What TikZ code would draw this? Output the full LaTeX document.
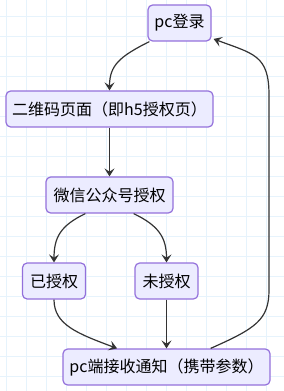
\documentclass[tikz,border=0pt]{standalone}
\usepackage{fontspec}
\setmainfont{Noto Sans CJK SC}
\usetikzlibrary{arrows.meta}
\definecolor{lilac}{HTML}{ECECFF}
\definecolor{amethyst}{HTML}{9370DB}
\definecolor{ink}{HTML}{333333}
\definecolor{gridblue}{HTML}{E6F3FC}
\tikzset{
  box/.style={draw=amethyst,rounded corners=3.5pt,line width=0.9pt,fill=lilac,
    minimum height=27pt,inner sep=2pt,align=center,font=\fontsize{12}{14}\selectfont},
  arr/.style={-{Stealth[length=6pt,width=7.5pt,inset=2.5pt]},line width=0.9pt,ink},
  gridline/.style={gridblue,line width=0.75pt}
}

\begin{document}
\begin{tikzpicture}[x=0.75pt,y=-0.75pt]
  \useasboundingbox (0,0) rectangle (284,391);
  % background grid
  \foreach \gx in {6.5,26.5,...,284} \draw[gridline] (\gx,0) -- (\gx,391);
  \foreach \gy in {16.5,36.5,...,391} \draw[gridline] (0,\gy) -- (284,\gy);

  \node[box,minimum width=47.25pt] (login) at (179.5,23) {pc登录};
  \node[box,minimum width=155.25pt] (qrpage) at (109.5,109) {二维码页面（即h5授权页）};
  \node[box,minimum width=95.25pt] (wxauth) at (109.5,195) {微信公众号授权};
  \node[box,minimum width=47.25pt] (granted) at (54,281) {已授权};
  \node[box,minimum width=47.25pt] (denied) at (166.5,281) {未授权};
  \node[box,minimum width=155.25pt] (notify) at (166.5,367) {pc端接收通知（携带参数）};

  \draw[arr] ([xshift=1.5pt]login.south west) .. controls +(-30,15) and +(0,-25) .. (qrpage.north);
  \draw[arr] (qrpage) -- (wxauth);
  \draw[arr] ([xshift=30pt]wxauth.south west) .. controls +(-25,12) and +(0,-25) .. (granted.north);
  \draw[arr] ([xshift=-30pt]wxauth.south east) .. controls +(25,12) and +(0,-25) .. (denied.north);
  \draw[arr] (granted.south) .. controls +(0,25) and +(-40,-15) .. ([xshift=41pt]notify.north west);
  \draw[arr] (denied) -- (notify);
  \draw[arr] ([xshift=-45pt]notify.north east) .. controls +(45,-20) and +(0,30) .. (269,290)
    -- (269,95) .. controls +(0,-40) and +(40,15) .. ([xshift=1.5pt,yshift=2pt]login.south east);
\end{tikzpicture}
\end{document}
